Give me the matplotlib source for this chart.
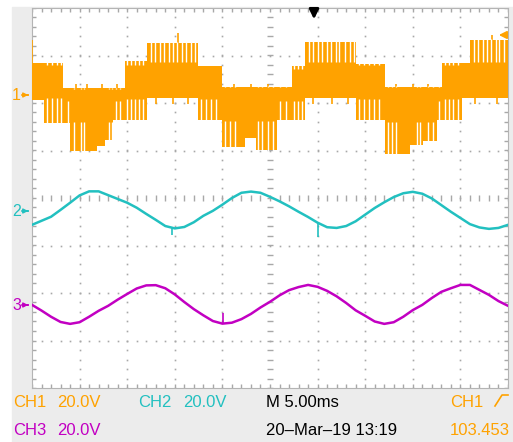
import numpy as np
import matplotlib.pyplot as plt
from matplotlib.patches import Rectangle

W, H = 513, 442
V_DIV = 20.0          # all three channels 20 V/div

# ground markers of the channels, in divisions from screen centre
CH1_OFF = 2.17
CH2_OFF = -0.27
CH3_OFF = -2.25

ORANGE  = "#ffa200"
CYAN    = "#22c0c0"
MAGENTA = "#c200c2"
BG      = "#ececec"
GRID    = "#a8a8a8"

# ---- CH1: chopped multilevel wave, read as step segments (ms, V) ----
ch1_edges = [0, 1.3, 3.3, 4.0, 6.8, 7.7, 8.5, 9.8, 12.1, 17.4, 20.0, 22.4,
             23.5, 25.7, 27.3, 28.7, 34.0, 37.1, 39.7, 41.1, 42.5, 43.1,
             45.2, 46.0, 50.0]
ch1_outer_top = [13.5, 13.5, 2.9, 2.9, 2.9, 2.9, 2.9, 14.3, 21.9, 12.2, 3.4, 3.4,
                 3.4, 3.4, 12.2, 22.3, 13.1, 3.4, 3.4, 3.4, 3.4, 13.5, 13.5, 23.2]
ch1_inner_top = [13.5, 12.2, 2.9, 2.1, 2.1, 2.1, 2.1, 12.2, 13.5, 12.2, 2.9, 2.9,
                 2.9, 2.9, 10.5, 13.5, 12.2, 2.9, 2.9, 2.9, 2.9, 12.2, 12.2, 13.5]
ch1_inner_bot = [-0.8, -0.8, -2.1, -10.9, -10.9, -10.9, -2.1, -1.3, -0.8, -1.3, -10.5, -10.5,
                 -10.5, -2.1, -2.1, -0.8, -1.3, -10.9, -10.9, -10.9, -2.1, -1.3, -0.8, -0.8]
ch1_outer_bot = [-2.1, -11.8, -11.8, -23.5, -21.5, -19.0, -10.5, -10.5, -1.3, -10.5, -21.9, -18.1,
                 -23.2, -10.5, -10.5, -1.3, -10.5, -24.8, -21.0, -19.4, -10.5, -10.5, -1.3, -1.3]
# white columns inside the switching band (ms)
ch1_gaps = [1.6, 2.1, 2.6, 3.0, 3.8, 4.4, 5.1, 5.5, 8.1, 8.4, 8.8, 9.2,
            10.0, 10.4, 10.8, 11.2, 11.7, 12.5, 12.9, 13.4, 13.9, 14.4, 14.8,
            15.2, 15.8, 16.2, 16.7, 17.1, 17.7, 18.3, 18.8, 19.3, 20.3, 20.8,
            21.3, 23.7, 24.2, 24.8, 25.3, 26.1, 26.7, 27.5, 27.9, 28.4, 29.1,
            29.5, 30.0, 30.5, 31.0, 31.4, 31.9, 32.3, 32.9, 33.4, 33.8, 34.3,
            34.9, 35.4, 35.9, 36.4, 37.4, 37.8, 38.2, 40.4, 40.8, 41.6, 42.1,
            42.7, 43.4, 43.8, 44.2, 44.7, 46.4, 46.8, 47.4, 47.8, 48.2, 48.7,
            49.1, 49.6]
# isolated spikes (ms, V)
ch1_spike_t = [0.05, 15.3, 48.3, 4.6, 5.8, 7.4, 8.9, 21.2, 23.0, 24.8, 38.2, 40.0,
               41.6, 13.0, 14.8, 16.4, 29.5, 31.5, 33.2, 46.5, 48.8]
ch1_spike_v = [23.2, 26.1, 25.3, 4.6, 4.6, 4.6, 4.6, 4.6, 4.6, 4.6, 4.6, 4.6,
               4.6, -3.8, -3.8, -3.8, -3.8, -3.8, -3.8, -3.8, -3.8]

# ---- CH2 / CH3 read every 1 ms (V) ----
t_ms = np.arange(0, 51)
ch2_v = [-5.9, -4.2, -2.5, 0.4, 3.4, 6.5, 8.2, 8.2, 6.6, 5.0,
         3.4, 1.3, -1.3, -3.8, -6.4, -7.4, -6.8, -4.8, -2.1, 0.0,
         2.6, 5.4, 7.6, 8.1, 7.6, 5.9, 4.0, 1.9, -0.4, -2.6,
         -5.0, -6.9, -7.2, -6.4, -4.4, -1.6, 1.2, 3.6, 5.8, 7.4,
         8.0, 7.2, 5.2, 2.4, -0.4, -3.0, -5.6, -7.0, -7.6, -7.2,
         -5.9]
ch3_v = [0.0, -2.4, -5.0, -7.2, -8.0, -7.3, -5.0, -2.5, -0.4, 2.2,
         4.6, 6.9, 8.2, 8.3, 7.0, 4.4, 1.2, -1.8, -4.4, -6.8,
         -7.9, -7.5, -6.0, -3.8, -1.1, 1.3, 4.0, 6.2, 7.5, 8.4,
         7.6, 5.9, 3.6, 0.8, -2.3, -4.6, -7.0, -8.0, -7.3, -5.0,
         -2.2, 0.0, 2.9, 5.5, 7.0, 8.4, 8.4, 6.3, 4.2, 1.6,
         -0.4]
ch2_glitch = [(14.7, -7.0, -10.0), (30.0, -5.0, -11.0)]
ch3_glitch = [(20.1, -7.9, -3.6)]


def px(x, y):
    return x / W, 1 - y / H


fig = plt.figure(figsize=(W / 100, H / 100), dpi=100, facecolor="white")
fig.patches.append(Rectangle((12 / W, 0), (W - 12) / W, (H - 7) / H,
                             transform=fig.transFigure, color=BG, zorder=-5))
ax = fig.add_axes([32 / W, 54 / H, 476 / W, 380 / H])
ax.set_xlim(0, 50)
ax.set_ylim(-4, 4)
ax.set_xticks([])
ax.set_yticks([])
for s in ax.spines.values():
    s.set_color("#b4b4b4")
    s.set_linewidth(0.8)

# graticule
minor_x = np.arange(0, 50.01, 1.0)
minor_y = np.arange(-4, 4.01, 0.2)
for gx in [5, 10, 15, 20, 30, 35, 40, 45]:
    ax.plot(np.full_like(minor_y, gx), minor_y, ls="none", marker="s", ms=1.2,
            mec="none", color=GRID, zorder=1)
for gy in [-3, -2, -1, 1, 2, 3]:
    ax.plot(minor_x, np.full_like(minor_x, gy), ls="none", marker="s", ms=1.2,
            mec="none", color=GRID, zorder=1)
ax.plot(np.full_like(minor_y, 25), minor_y, ls="none", marker="_", ms=4, mew=1,
        color=GRID, zorder=1)
ax.plot(minor_x, np.zeros_like(minor_x), ls="none", marker="|", ms=4, mew=1,
        color=GRID, zorder=1)
for gy in [-4, 4]:
    ax.plot(minor_x, np.full_like(minor_x, gy), ls="none", marker="|", ms=6, mew=1,
            color=GRID, zorder=1)
for gx in [0, 50]:
    ax.plot(np.full_like(minor_y, gx), minor_y, ls="none", marker="_", ms=6, mew=1,
            color=GRID, zorder=1)

# CH1
def d1(v):
    return CH1_OFF + np.asarray(v) / V_DIV

edges = np.array(ch1_edges)
ot, it = np.array(ch1_outer_top), np.array(ch1_inner_top)
ib, ob = np.array(ch1_inner_bot), np.array(ch1_outer_bot)
pad = lambda a: np.append(a, a[-1])
ax.fill_between(edges, d1(pad(ob)), d1(pad(ot)), step="post", color=ORANGE,
                lw=0, zorder=3)
for g in ch1_gaps:
    k = np.searchsorted(edges, g, side="right") - 1
    if ot[k] > it[k]:
        ax.vlines(g, d1(it[k]) + 0.02, d1(ot[k]) + 0.01, color="white", lw=1.0, zorder=4)
    if ib[k] > ob[k]:
        ax.vlines(g, d1(ob[k]) - 0.01, d1(ib[k]) - 0.02, color="white", lw=1.0, zorder=4)
ax.vlines(ch1_spike_t, d1(0), d1(ch1_spike_v), color=ORANGE, lw=1.2, zorder=3)

# CH2 / CH3
ax.plot(t_ms, CH2_OFF + np.array(ch2_v) / V_DIV, color=CYAN, lw=1.8, zorder=5)
ax.plot(t_ms, CH3_OFF + np.array(ch3_v) / V_DIV, color=MAGENTA, lw=1.8, zorder=5)
for t, a, b in ch2_glitch:
    ax.vlines(t, CH2_OFF + a / V_DIV, CH2_OFF + b / V_DIV, color=CYAN, lw=1.2, zorder=5)
for t, a, b in ch3_glitch:
    ax.vlines(t, CH3_OFF + a / V_DIV, CH3_OFF + b / V_DIV, color=MAGENTA, lw=1.2, zorder=5)

# channel ground markers
for lab, y, c in [("1", 95, ORANGE), ("2", 211, CYAN), ("3", 305, MAGENTA)]:
    fig.text(*px(12, y), lab, color=c, fontsize=11.5, family="Liberation Sans",
             va="center")
    fig.add_artist(plt.Line2D([22 / W, 28 / W], [1 - y / H] * 2, color=c, lw=1.2))
    ax.annotate("", xy=(31, H - y), xytext=(25, H - y), xycoords="figure pixels",
                textcoords="figure pixels",
                arrowprops=dict(arrowstyle="-|>", color=c, lw=1.0, mutation_scale=7),
                annotation_clip=False)

# trigger position and trigger level
ax.annotate("", xy=(314, H - 22), xytext=(314, H - 6), xycoords="figure pixels",
            textcoords="figure pixels",
            arrowprops=dict(arrowstyle="-|>", color="black", lw=2.0, mutation_scale=14),
            annotation_clip=False)
ax.annotate("", xy=(496, H - 35), xytext=(509, H - 35), xycoords="figure pixels",
            textcoords="figure pixels",
            arrowprops=dict(arrowstyle="-|>", color=ORANGE, lw=1.4, mutation_scale=11),
            annotation_clip=False)

# readout
fs = 12
fam = "Liberation Sans"
row1, row2 = 407, 435
readout = [
    (13, row1, "CH1", ORANGE), (57, row1, "20.0V", ORANGE),
    (138, row1, "CH2", CYAN), (183, row1, "20.0V", CYAN),
    (266, row1, "M 5.00ms", "black"), (450, row1, "CH1", ORANGE),
    (13, row2, "CH3", MAGENTA), (57, row2, "20.0V", MAGENTA),
    (266, row2, "20\u2013Mar\u201319 13:19", "black"), (450, row2, "103.453", ORANGE),
]
for x, y, s, c in readout:
    fig.text(*px(x, y), s, color=c, fontsize=fs, family=fam, va="baseline")
fig.add_artist(plt.Line2D([495 / W, 502 / W, 508 / W],
                          [1 - 406 / H, 1 - 395 / H, 1 - 395 / H],
                          color=ORANGE, lw=1.2))

fig.savefig("out.png", dpi=100)
